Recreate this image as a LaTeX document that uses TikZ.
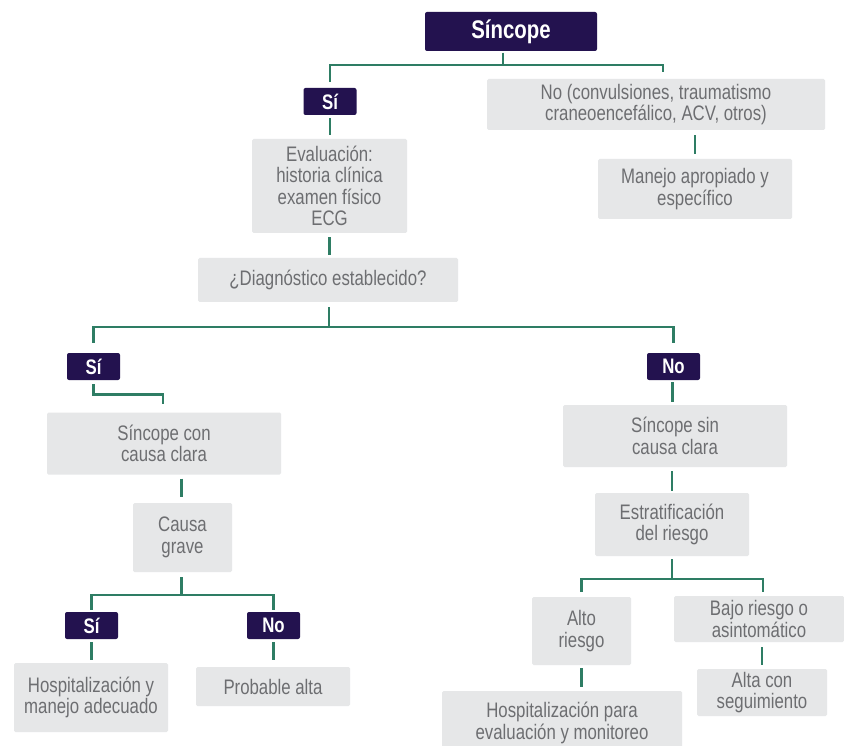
\documentclass[tikz,border=0pt]{standalone}
\usepackage{fontspec}
\setmainfont{Liberation Sans}[FakeStretch=0.80]
\definecolor{dk}{HTML}{23124F}
\definecolor{gr}{HTML}{E6E7E8}
\definecolor{tx}{HTML}{6D6E71}
\definecolor{ln}{HTML}{2E7D64}
\tikzset{
  darkbox/.style={fill=dk, rounded corners=2pt, text=white, inner sep=0pt,
    font=\bfseries\fontsize{21}{23}\selectfont, minimum width=53pt, minimum height=27pt},
  graybox/.style={fill=gr, rounded corners=1.5pt, text=tx, inner sep=0pt, align=center,
    font=\fontsize{21}{21.5}\selectfont},
  conn/.style={draw=ln, line width=2.6pt}
}
\begin{document}
\begin{tikzpicture}[x=1pt,y=-1pt]
\useasboundingbox[fill=white] (0,0) rectangle (844,746);
% nodes
\node[darkbox, minimum width=172pt, minimum height=39pt, font=\bfseries\fontsize{25.5}{27}\selectfont] (top) at (511,31.5) {Síncope};
\node[darkbox] (si1) at (330,101.5) {Sí};
\node[graybox, minimum width=338pt, minimum height=51pt] (nob) at (656,104.5) {No (convulsiones, traumatismo\\craneoencefálico, ACV, otros)};
\node[graybox, minimum width=194pt, minimum height=60pt] (man) at (695,189) {Manejo apropiado y\\específico};
\node[graybox, minimum width=155pt, minimum height=94pt] (eva) at (329.5,186) {Evaluación:\\historia clínica\\examen físico\\ECG};
\node[graybox, minimum width=260pt, minimum height=44pt] (diag) at (328,280) {¿Diagnóstico establecido?};
\node[darkbox] (si2) at (93.5,366.5) {Sí};
\node[darkbox] (no2) at (673.5,366.5) {No};
\node[graybox, minimum width=234pt, minimum height=62pt] (scc) at (164,443.5) {Síncope con\\causa clara};
\node[graybox, minimum width=224pt, minimum height=62pt] (ssc) at (675,436) {Síncope sin\\causa clara};
\node[graybox, minimum width=99pt, minimum height=69pt] (cg) at (182.5,537.5) {Causa\\grave};
\node[graybox, minimum width=154pt, minimum height=63pt] (est) at (672,524.5) {Estratificación\\del riesgo};
\node[darkbox] (si3) at (91.5,625.5) {Sí};
\node[darkbox] (no3) at (273.5,625.5) {No};
\node[graybox, minimum width=154pt, minimum height=69pt] (hosp1) at (91,697.5) {Hospitalización y\\manejo adecuado};
\node[graybox, minimum width=154pt, minimum height=39pt] (prob) at (273,686.5) {Probable alta};
\node[graybox, minimum width=99pt, minimum height=68pt] (alto) at (581.5,631) {Alto\\riesgo};
\node[graybox, minimum width=170pt, minimum height=46pt] (bajo) at (759,619) {Bajo riesgo o\\asintomático};
\node[graybox, minimum width=130pt, minimum height=47pt] (alta) at (762,692.5) {Alta con\\seguimiento};
\node[graybox, minimum width=240pt, minimum height=64pt] (hosp2) at (562,723) {Hospitalización para\\evaluación y monitoreo};
% junctions
\coordinate (j1) at (503,65);
\coordinate (j2) at (329,327);
\coordinate (j3) at (181.5,595);
\coordinate (j4) at (672,579);
% connectors
\draw[conn, shorten <=1.5pt] ([xshift=-8pt]top.south) -- (j1);
\draw[conn, shorten >=6pt] (j1) -| (si1.north);
\draw[conn, shorten >=7pt] (j1) -| ([xshift=7pt]nob.north);
\draw[conn, shorten <=3pt, shorten >=4pt] (si1.south) -- (si1.south |- eva.north);
\draw[conn, shorten <=5pt, shorten >=5pt] (man.north |- nob.south) -- (man.north);
\draw[conn, shorten <=4pt, shorten >=3pt] (eva.south) -- (eva.south |- diag.north);
\draw[conn, shorten <=5pt] (diag.south -| j2) -- (j2);
\draw[conn, shorten >=10pt] (j2) -| (si2.north);
\draw[conn, shorten >=10pt] (j2) -| (no2.north);
\draw[conn, shorten <=4pt, shorten >=8pt] (si2.south) -- ([yshift=-14pt]si2.south) -| ([xshift=-1pt]scc.north);
\draw[conn, shorten <=2pt, shorten >=3pt] ([xshift=-1pt]no2.south) -- ([xshift=-1pt]no2.south |- ssc.north);
\draw[conn, shorten <=4pt, shorten >=2pt] (est.north |- ssc.south) -- (est.north);
\draw[conn, shorten <=4pt, shorten >=6pt] ([xshift=-1pt]cg.north |- scc.south) -- ([xshift=-1pt]cg.north);
\draw[conn, shorten <=5pt] ([xshift=-1pt]cg.south) -- (j3);
\draw[conn, shorten >=2pt] (j3) -| (si3.north);
\draw[conn, shorten >=2pt] (j3) -| (no3.north);
\draw[conn, shorten <=3pt, shorten >=3pt] (si3.south) -- (si3.south |- hosp1.north);
\draw[conn, shorten <=3pt, shorten >=7pt] (no3.south) -- (no3.south |- prob.north);
\draw[conn, shorten <=3pt] (est.south) -- (j4);
\draw[conn, shorten >=5pt] (j4) -| (alto.north);
\draw[conn, shorten >=4pt] (j4) -| ([xshift=4pt]bajo.north);
\draw[conn, shorten <=5pt, shorten >=4pt] (alta.north |- bajo.south) -- (alta.north);
\draw[conn, shorten <=3pt, shorten >=4pt] (alto.south) -- (alto.south |- hosp2.north);
\end{tikzpicture}
\end{document}
